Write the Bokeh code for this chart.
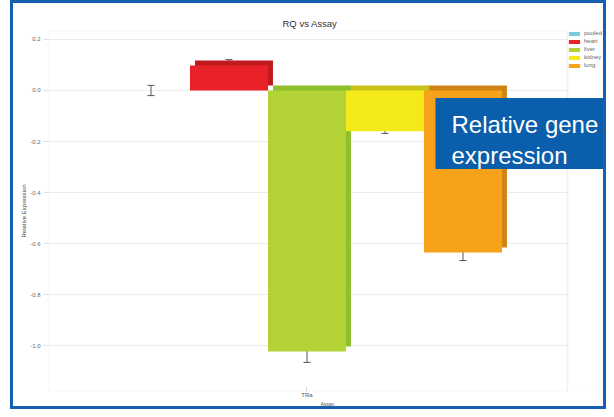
from bokeh.plotting import figure
from bokeh.models import (ColumnDataSource, Whisker, TeeHead, BoxAnnotation, Label,
                          Legend, LegendItem, FixedTicker, PrintfTickFormatter, Range1d,
                          InlineStyleSheet)
from bokeh.embed import file_html
from bokeh.resources import INLINE

# ---- data ----
assays = ["pooled", "heart", "liver", "kidney", "lung"]
rq = [0.0, 0.098, -1.022, -0.160, -0.635]
rq_err = [0.02, 0.023, 0.043, 0.008, 0.031]
target_label = "TRa"
yticks = [0.2, 0.0, -0.2, -0.4, -0.6, -0.8, -1.0]

face_colors = ["#7ccbdc", "#e82228", "#b2d235", "#f4ea1a", "#f8a11b"]
side_colors = ["#5aa9ba", "#c2191e", "#8fbf2c", "#c9c11a", "#cf8515"]

xpos = list(range(len(assays)))
dx, dy = 0.064, 0.0196  # 3D depth
x_lo, x_plot_hi, x_hi = -1.314, 5.34, 5.84
y_lo, y_hi = -1.179, 0.235

p = figure(width=606, height=409, output_backend="svg", toolbar_location=None,
           x_range=Range1d(x_lo, x_hi), y_range=Range1d(y_lo, y_hi),
           min_border_left=48, min_border_right=0, min_border_top=30, min_border_bottom=16)
p.background_fill_color = "white"
p.border_fill_color = "white"
p.outline_line_color = None

p.title.text = "RQ vs Assay"
p.title.align = "left"
p.title.offset = 234
p.title.text_font = "Liberation Sans"
p.title.text_font_size = "9.5px"
p.title.text_font_style = "normal"
p.title.text_color = "#333333"
p.title.standoff = 4

# shadow (3D side/top)
shadow = ColumnDataSource(dict(
    x=[x + dx for x in xpos],
    top=[max(v, 0) + dy for v in rq],
    bottom=[min(v, 0) + dy for v in rq],
    color=side_colors))
p.vbar(x="x", top="top", bottom="bottom", width=1.0, source=shadow,
       fill_color="color", line_color=None)

face = ColumnDataSource(dict(
    x=xpos,
    top=[max(v, 0) for v in rq],
    bottom=[min(v, 0) for v in rq],
    color=face_colors, assay=assays))
fr = p.vbar(x="x", top="top", bottom="bottom", width=1.0, source=face,
            fill_color="color", line_color=None)

err = ColumnDataSource(dict(
    base=xpos,
    upper=[v + e for v, e in zip(rq, rq_err)],
    lower=[v - e for v, e in zip(rq, rq_err)]))
wh = Whisker(base="base", upper="upper", lower="lower", source=err,
             line_color="#555555", line_width=1,
             upper_head=TeeHead(size=7, line_color="#555555", line_width=1),
             lower_head=TeeHead(size=7, line_color="#555555", line_width=1))
p.add_layout(wh)

# axes
p.xgrid.grid_line_color = None
p.ygrid.grid_line_color = "#ececec"
p.ygrid.ticker = FixedTicker(ticks=yticks)

p.yaxis.ticker = FixedTicker(ticks=yticks)
p.yaxis.formatter = PrintfTickFormatter(format="%.1f")
p.yaxis.axis_line_color = None
p.yaxis.major_tick_line_color = "#e2e2e2"
p.yaxis.major_tick_out = 5
p.yaxis.major_tick_in = 0
p.yaxis.minor_tick_line_color = None
p.yaxis.major_label_text_font = "Liberation Sans"
p.yaxis.major_label_text_font_size = "6px"
p.yaxis.major_label_text_color = "#666666"
p.yaxis.major_label_standoff = 3
p.yaxis.axis_label = "Relative Expression"
p.yaxis.axis_label_text_font = "Liberation Sans"
p.yaxis.axis_label_text_font_size = "6px"
p.yaxis.axis_label_text_font_style = "normal"
p.yaxis.axis_label_text_color = "#444444"
p.yaxis.axis_label_standoff = 0

p.xaxis.ticker = FixedTicker(ticks=[2])
p.xaxis.major_label_overrides = {2: target_label}
p.xaxis.axis_line_color = None
p.xaxis.major_tick_line_color = "#d0d0d0"
p.xaxis.major_tick_in = 4
p.xaxis.major_tick_out = 0
p.xaxis.minor_tick_line_color = None
p.xaxis.major_label_text_font = "Liberation Sans"
p.xaxis.major_label_text_font_size = "6px"
p.xaxis.major_label_text_color = "#555555"
p.xaxis.major_label_standoff = 0
p.xaxis.axis_label = "Assay"
p.xaxis.axis_label_text_font = "Liberation Sans"
p.xaxis.axis_label_text_font_size = "5px"
p.xaxis.axis_label_text_font_style = "normal"
p.xaxis.axis_label_text_color = "#555555"
p.xaxis.axis_label_standoff = 0

# hide grid beyond the plot area and draw plot-area outline
p.add_layout(BoxAnnotation(left=x_plot_hi, fill_color="white", fill_alpha=1,
                           line_color="#e2e2e2", line_width=1))
p.add_layout(BoxAnnotation(right=x_plot_hi, fill_alpha=0,
                           line_color="#e2e2e2", line_width=2))

# legend
items = [LegendItem(label=a, renderers=[fr], index=i) for i, a in enumerate(assays)]
leg = Legend(items=items, location=(519, 322), orientation="vertical",
             glyph_width=14, glyph_height=5, label_height=8, spacing=0,
             padding=0, margin=0, label_standoff=3,
             label_text_font="Liberation Sans", label_text_font_size="6px",
             label_text_color="#666666", border_line_color=None,
             background_fill_alpha=0)
p.add_layout(leg, "center")

# blue callout box
p.add_layout(BoxAnnotation(left=387, top=293.5, bottom=222.5,
                           left_units="screen", top_units="screen", bottom_units="screen",
                           fill_color="#0a5eab", fill_alpha=1, line_color=None))
for txt, yb in [("Relative gene", 267.5), ("expression", 236.5)]:
    p.add_layout(Label(x=403, y=yb, x_units="screen", y_units="screen", text=txt,
                       text_font="Liberation Sans", text_font_size="24px",
                       text_color="white", text_baseline="alphabetic"))

# outer blue frame (decorative border)
p.stylesheets = [InlineStyleSheet(css="""
:host { position: relative; }
:host::after { content: ""; position: absolute; left: 10px; top: 0px;
  width: 596px; height: 409px; box-sizing: border-box;
  border: 3px solid #1560b0; pointer-events: none; z-index: 10; }
""")]

open("out.html", "w").write(file_html(p, INLINE))
